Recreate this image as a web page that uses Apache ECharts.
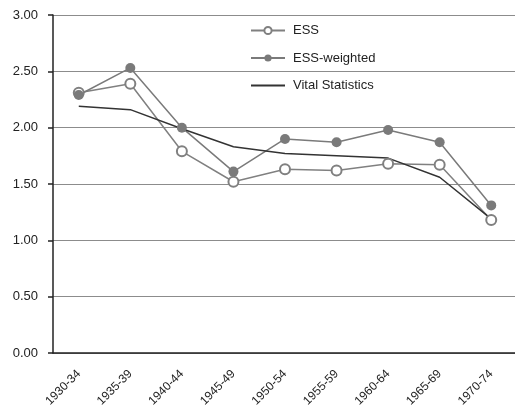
<!DOCTYPE html>
<html><head><meta charset="utf-8">
<script src="https://cdn.jsdelivr.net/npm/echarts@6/dist/echarts.min.js"></script>
<style>html,body{margin:0;padding:0;background:#fff}#c{width:515px;height:407px}</style>
</head><body><div id="c"></div>
<script>
var categories = ['1930-34','1935-39','1940-44','1945-49','1950-54','1955-59','1960-64','1965-69','1970-74'];
var ess = [2.31,2.39,1.79,1.52,1.63,1.62,1.68,1.67,1.18];
var essWeighted = [2.29,2.53,2.00,1.61,1.90,1.87,1.98,1.87,1.31];
var vital = [2.19,2.16,1.99,1.83,1.77,1.75,1.73,1.56,1.19];

var chart = echarts.init(document.getElementById('c'));
var font = 'Liberation Sans, Arial, Helvetica, sans-serif';
chart.setOption({
  animation:false,
  grid:{left:53,top:15,right:-2,bottom:54,outerBoundsMode:'none',containLabel:false},
  legend:{
    orient:'vertical', left:245, top:19, itemWidth:34, itemHeight:9, itemGap:14.5,
    textStyle:{fontFamily:font,fontSize:13,color:'#222',padding:[0,0,0,3]},
    data:['ESS','ESS-weighted',{name:'Vital Statistics',itemStyle:{opacity:0}}]
  },
  xAxis:{
    type:'category', data:categories, boundaryGap:true,
    axisLine:{lineStyle:{color:'#222',width:1.5}},
    axisTick:{alignWithLabel:true,length:5,lineStyle:{color:'#222',width:1.5}},
    axisLabel:{rotate:45,fontFamily:font,fontSize:12,color:'#222',margin:19}
  },
  yAxis:{
    type:'value', min:0, max:3, interval:0.5,
    axisLine:{show:true,lineStyle:{color:'#222',width:1.5}},
    axisTick:{show:true,length:5,lineStyle:{color:'#222',width:1.5}},
    axisLabel:{fontFamily:font,fontSize:13,color:'#222',margin:15,formatter:function(v){return v.toFixed(2);}},
    splitLine:{lineStyle:{color:'#8c8c8c',width:1}}
  },
  series:[
    {name:'ESS',type:'line',data:ess,symbol:'emptyCircle',symbolSize:10,
     lineStyle:{color:'#808080',width:1.5},itemStyle:{color:'#808080',borderColor:'#808080',borderWidth:1}},
    {name:'ESS-weighted',type:'line',data:essWeighted,symbol:'circle',symbolSize:10,
     lineStyle:{color:'#7a7a7a',width:1.5},itemStyle:{color:'#7a7a7a'}},
    {name:'Vital Statistics',type:'line',data:vital,symbol:'none',
     lineStyle:{color:'#333',width:1.5},itemStyle:{color:'#333'}}
  ]
});
</script></body></html>
